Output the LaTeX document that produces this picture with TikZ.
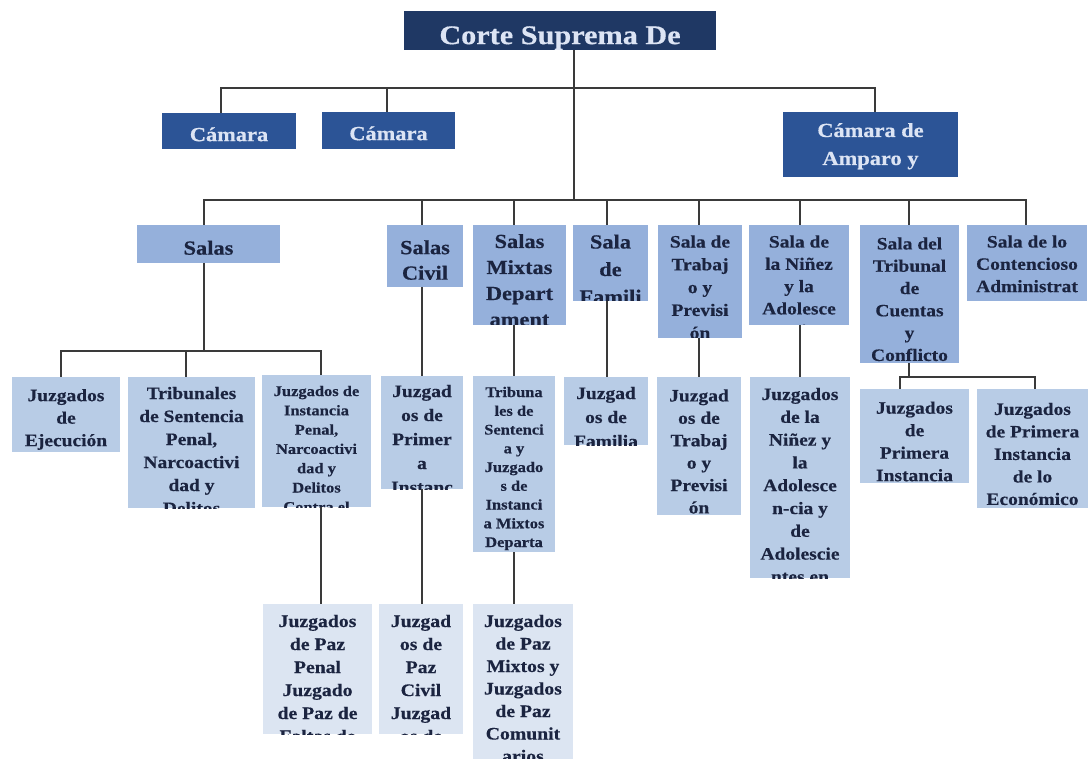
\documentclass[tikz,border=0pt]{standalone}
\usepackage{fontspec}
\setmainfont{Liberation Serif}[FakeStretch=1.12, BoldFeatures={FakeBold=0.4}]
\definecolor{navy}{HTML}{1F3864}
\definecolor{camb}{HTML}{2C5496}
\definecolor{lvlthree}{HTML}{95B0DB}
\definecolor{lvlfour}{HTML}{B8CCE6}
\definecolor{lvlfive}{HTML}{DCE5F2}
\definecolor{ink}{HTML}{1B2440}
\definecolor{pale}{HTML}{DCE4F4}
\definecolor{wirec}{HTML}{3A3A3A}
\newcommand\fd[2]{\fontsize{#1}{#2}\selectfont\bfseries\color{ink}}
\newcommand\fl[2]{\fontsize{#1}{#2}\selectfont\bfseries\color{pale}}
\tikzset{
  orgbox/.style={rectangle, draw=none, inner sep=0pt, outer sep=0pt, anchor=north west},
  wire/.style={draw=wirec, line width=1.4pt}
}
% name, fill, x1, y1, x2, y2, font, first-baseline offset, text
\newcommand\bx[9]{%
  \node[orgbox, fill=#2, minimum width={#5pt-#3pt}, minimum height={#6pt-#4pt},
    path picture={\node[anchor=north, inner sep=0pt, align=center, font=#7]
      at (path picture bounding box.north) {\rule{0pt}{#8pt}#9};}]
    (#1) at (#3,#4) {};}
\begin{document}
\begin{tikzpicture}[x=1pt,y=-1pt]
\useasboundingbox (0,0) rectangle (1090,759);
\fill[white] (0,0) rectangle (1090,759);
% level 1
\bx{top}{navy}{404}{11}{716}{50}{\fl{27}{30}}{33}{Corte Suprema De}
% level 2
\bx{cam1}{camb}{162}{113}{296}{149}{\fl{20}{28}}{20.5}{Cámara}
\bx{cam2}{camb}{322}{112}{455}{149}{\fl{20}{28}}{19.5}{Cámara}
\bx{amp}{camb}{783}{112}{958}{177}{\fl{20}{28}}{25}{Cámara de\\Amparo y\\Antejuicio}
% level 3
\bx{salas}{lvlthree}{137}{225}{280}{263}{\fd{20}{26}}{21.5}{Salas}
\bx{civil}{lvlthree}{387}{225}{463}{287}{\fd{20}{25.5}}{22}{Salas\\Civil}
\bx{mixtas}{lvlthree}{473}{225}{566}{325}{\fd{20}{26}}{23}{Salas\\Mixtas\\Depart\\ament}
\bx{fami}{lvlthree}{573}{225}{648}{301}{\fd{20}{27.5}}{23.5}{Sala\\de\\Famili\\a}
\bx{trabajo}{lvlthree}{658}{225}{742}{338}{\fd{17.4}{22.8}}{22.5}{Sala de\\Trabaj\\o y\\Previsi\\ón\\Social}
\bx{ninez}{lvlthree}{749}{225}{849}{325}{\fd{17.4}{22.3}}{22.5}{Sala de\\la Niñez\\y la\\Adolesce\\ncia}
\bx{tribunal}{lvlthree}{860}{225}{959}{363}{\fd{17.4}{22.3}}{22.5}{Sala del\\Tribunal\\de\\Cuentas\\y\\Conflicto}
\bx{conten}{lvlthree}{967}{225}{1087}{301}{\fd{17.4}{22.3}}{22.5}{Sala de lo\\Contencioso\\Administrat\\ivo}
% level 4
\bx{ejec}{lvlfour}{12}{377}{120}{452}{\fd{17.4}{22.5}}{22}{Juzgados\\de\\Ejecución}
\bx{tribsent}{lvlfour}{128}{377}{255}{508}{\fd{17.4}{23}}{22}{Tribunales\\de Sentencia\\Penal,\\Narcoactivi\\dad y\\Delitos}
\bx{instpenal}{lvlfour}{262}{375}{371}{507}{\fd{14.7}{19.3}}{21}{Juzgados de\\Instancia\\Penal,\\Narcoactivi\\dad y\\Delitos\\Contra el}
\bx{primciv}{lvlfour}{381}{376}{463}{489}{\fd{17.4}{24}}{21}{Juzgad\\os de\\Primer\\a\\Instanc\\ia}
\bx{trimix}{lvlfour}{473}{376}{555}{552}{\fd{14.7}{18.75}}{21}{Tribuna\\les de\\Sentenci\\a y\\Juzgado\\s de\\Instanci\\a Mixtos\\Departa\\mentales}
\bx{familia}{lvlfour}{564}{377}{648}{445}{\fd{17.4}{24}}{22}{Juzgad\\os de\\Familia}
\bx{trabjuz}{lvlfour}{657}{377}{741}{515}{\fd{17.4}{22.4}}{23}{Juzgad\\os de\\Trabaj\\o y\\Previsi\\ón}
\bx{ninezjuz}{lvlfour}{750}{377}{850}{578}{\fd{17.4}{22.8}}{23}{Juzgados\\de la\\Niñez y\\la\\Adolesce\\n-cia y\\de\\Adolescie\\ntes en}
\bx{primjuz}{lvlfour}{860}{389}{969}{483}{\fd{17.4}{22.5}}{23}{Juzgados\\de\\Primera\\Instancia}
\bx{econjuz}{lvlfour}{977}{389}{1088}{508}{\fd{17.4}{22.5}}{23}{Juzgados\\de Primera\\Instancia\\de lo\\Económico}
% level 5
\bx{pazpenal}{lvlfive}{263}{604}{372}{734}{\fd{17.6}{23}}{23}{Juzgados\\de Paz\\Penal\\Juzgado\\de Paz de\\Faltas de}
\bx{pazcivil}{lvlfive}{379}{604}{463}{734}{\fd{17.6}{23}}{23}{Juzgad\\os de\\Paz\\Civil\\Juzgad\\os de}
\bx{pazmix}{lvlfive}{473}{604}{573}{759}{\fd{17.6}{22.5}}{23}{Juzgados\\de Paz\\Mixtos y\\Juzgados\\de Paz\\Comunit\\arios}
% bus points
\coordinate (b1) at (574,88);
\coordinate (b2) at (574,200);
\coordinate (b3) at (204,351);
\coordinate (b4) at (909,377);
% connectors
\draw[wire] (top.south -| b1) -- (b2);
\draw[wire] (b1) -| ([xshift=-8pt]cam1.north);
\draw[wire] (b1) -| ([xshift=-1.5pt]cam2.north);
\draw[wire] (b1) -| ([xshift=4.5pt]amp.north);
\draw[wire] (b2) -| ([xshift=-4.5pt]salas.north);
\draw[wire] (b2) -| ([xshift=-3pt]civil.north);
\draw[wire] (b2) -| ([xshift=-5.5pt]mixtas.north);
\draw[wire] (b2) -| ([xshift=-3.5pt]fami.north);
\draw[wire] (b2) -| ([xshift=-1pt]trabajo.north);
\draw[wire] (b2) -| ([xshift=1pt]ninez.north);
\draw[wire] (b2) -| ([xshift=-0.5pt]tribunal.north);
\draw[wire] (b2) -| ([xshift=-1pt]conten.north);
\draw[wire] ([xshift=-4.5pt]salas.south) -- (b3);
\draw[wire] (b3) -| ([xshift=-5pt]ejec.north);
\draw[wire] (b3) -| ([xshift=-5.5pt]tribsent.north);
\draw[wire] (b3) -| ([xshift=4.5pt]instpenal.north);
\draw[wire] ([xshift=-3pt]civil.south) -- (primciv.north);
\draw[wire] ([xshift=-5.5pt]mixtas.south) -- (trimix.north);
\draw[wire] ([xshift=-3.5pt]fami.south) -- ([xshift=1pt]familia.north);
\draw[wire] ([xshift=-1pt]trabajo.south) -- (trabjuz.north);
\draw[wire] ([xshift=1pt]ninez.south) -- (ninezjuz.north);
\draw[wire] ([xshift=-0.5pt]tribunal.south) -- (b4);
\draw[wire] (b4) -| ([xshift=-14.5pt]primjuz.north);
\draw[wire] (b4) -| ([xshift=2.5pt]econjuz.north);
\draw[wire] ([xshift=4.5pt]instpenal.south) -- ([xshift=3.5pt]pazpenal.north);
\draw[wire] (primciv.south) -- ([xshift=1pt]pazcivil.north);
\draw[wire] (trimix.south) -- ([xshift=-9pt]pazmix.north);
\end{tikzpicture}
\end{document}
